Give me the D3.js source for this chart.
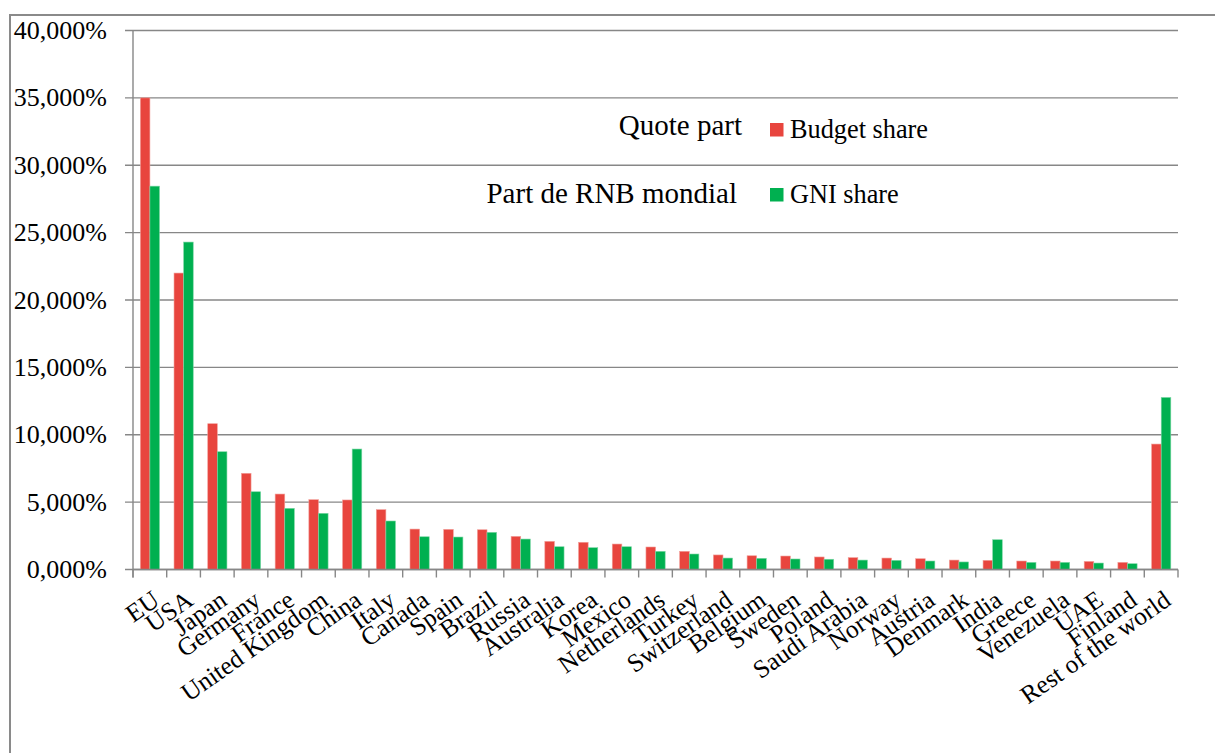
<!DOCTYPE html>
<html>
<head>
<meta charset="utf-8">
<script src="https://cdn.jsdelivr.net/npm/d3@7"></script>
<style>
  html, body { margin: 0; padding: 0; background: #fff; }
  svg { display: block; }
</style>
</head>
<body>
<svg id="chart" width="1215" height="753"></svg>
<script>
// Countries / groupings, in the order drawn along the x axis
const categories = [
  "EU", "USA", "Japan", "Germany", "France", "United Kingdom", "China", "Italy",
  "Canada", "Spain", "Brazil", "Russia", "Australia", "Korea", "Mexico",
  "Netherlands", "Turkey", "Switzerland", "Belgium", "Sweden", "Poland",
  "Saudi Arabia", "Norway", "Austria", "Denmark", "India", "Greece",
  "Venezuela", "UAE", "Finland", "Rest of the world"
];

// Share of the budget (%), "Quote part"
const budgetShare = [
  35.0, 22.0, 10.82, 7.14, 5.6, 5.18, 5.16, 4.44,
  3.0, 2.98, 2.95, 2.46, 2.09, 2.02, 1.89,
  1.67, 1.35, 1.08, 1.02, 1.0, 0.93,
  0.88, 0.85, 0.8, 0.7, 0.68, 0.63,
  0.63, 0.6, 0.53, 9.31
];

// Share of world GNI (%), "Part de RNB mondial"
const gniShare = [
  28.45, 24.3, 8.74, 5.77, 4.54, 4.17, 8.94, 3.6,
  2.43, 2.41, 2.76, 2.26, 1.69, 1.62, 1.69,
  1.35, 1.15, 0.85, 0.83, 0.78, 0.76,
  0.7, 0.68, 0.63, 0.56, 2.21, 0.53,
  0.53, 0.48, 0.43, 12.77
];

const seriesNames = ["Budget share", "GNI share"];
const seriesColors = ["#E8453E", "#00B050"];
const yTicks = [0, 5, 10, 15, 20, 25, 30, 35, 40];

const FONT = "'Liberation Serif', 'Times New Roman', Tinos, 'DejaVu Serif', serif";

const svg = d3.select("#chart")
  .attr("font-family", FONT);
const plot = { left: 133, right: 1178, top: 30.5, bottom: 569.5 };
const gridColor = "#878787";

// Outer frame (top and left edges visible)
svg.append("path")
  .attr("d", `M10,753 L10,15 L1215,15`)
  .attr("fill", "none")
  .attr("stroke", "#8a8a8a")
  .attr("stroke-width", 2);

const x = d3.scaleBand().domain(categories).range([plot.left, plot.right]).padding(0);
const xInner = d3.scaleBand().domain(seriesNames)
  .range([x.bandwidth() * 0.217, x.bandwidth() * 0.787]).padding(0);
const y = d3.scaleLinear().domain([0, 40]).range([plot.bottom, plot.top]);

// French-style number format: comma as decimal separator
const fmt = v => d3.format(".3f")(v).replace(".", ",") + "%";

// Horizontal gridlines with left tick marks
const yAxis = svg.append("g").attr("class", "y-axis");
yAxis.selectAll("line.grid")
  .data(yTicks)
  .join("line")
  .attr("class", "grid")
  .attr("x1", plot.left - 8)
  .attr("x2", plot.right)
  .attr("y1", d => y(d))
  .attr("y2", d => y(d))
  .attr("stroke", gridColor)
  .attr("stroke-width", 1.4);

yAxis.selectAll("text")
  .data(yTicks)
  .join("text")
  .attr("x", 107)
  .attr("y", d => y(d) + 8.5)
  .attr("text-anchor", "end")
  .attr("font-size", 26)
  .text(d => fmt(d));

// Vertical axis line
svg.append("line")
  .attr("x1", plot.left).attr("x2", plot.left)
  .attr("y1", y(40)).attr("y2", plot.bottom + 8)
  .attr("stroke", gridColor).attr("stroke-width", 1.4);

// Bars
const rows = categories.map((c, i) => ({ cat: c, vals: [budgetShare[i], gniShare[i]] }));
const groups = svg.append("g").attr("class", "bars")
  .selectAll("g")
  .data(rows)
  .join("g")
  .attr("transform", d => `translate(${x(d.cat)},0)`);

groups.selectAll("rect")
  .data(d => d.vals.map((v, k) => ({ name: seriesNames[k], v, k })))
  .join("rect")
  .attr("x", d => xInner(d.name))
  .attr("width", xInner.bandwidth())
  .attr("y", d => y(d.v))
  .attr("height", d => y(0) - y(d.v))
  .attr("fill", d => seriesColors[d.k])
  .attr("stroke", d => d.k === 0 ? "#f2a09b" : "#7fd7a7")
  .attr("stroke-width", 0.6);

// Category axis: baseline and tick marks between categories
const xAxis = svg.append("g").attr("class", "x-axis");
xAxis.append("line")
  .attr("x1", plot.left).attr("x2", plot.right)
  .attr("y1", plot.bottom).attr("y2", plot.bottom)
  .attr("stroke", gridColor).attr("stroke-width", 1.4);

const tickXs = categories.map(c => x(c)).concat([plot.right]);
xAxis.selectAll("line.tick")
  .data(tickXs)
  .join("line")
  .attr("class", "tick")
  .attr("x1", d => d).attr("x2", d => d)
  .attr("y1", plot.bottom).attr("y2", plot.bottom + 8)
  .attr("stroke", gridColor).attr("stroke-width", 1.4);

xAxis.selectAll("text")
  .data(categories)
  .join("text")
  .attr("transform", d => `translate(${x(d) + x.bandwidth() / 2 + 1},589) rotate(-35)`)
  .attr("text-anchor", "end")
  .attr("dy", "0.7em")
  .attr("font-size", 25.5)
  .text(d => d);

// Legend
const legend = svg.append("g").attr("class", "legend");
legend.append("text")
  .attr("x", 742).attr("y", 135)
  .attr("text-anchor", "end")
  .attr("font-size", 29)
  .text("Quote part");
legend.append("text")
  .attr("x", 737).attr("y", 203)
  .attr("text-anchor", "end")
  .attr("font-size", 29)
  .text("Part de RNB mondial");

const legendRows = [
  { name: seriesNames[0], color: seriesColors[0], y: 138 },
  { name: seriesNames[1], color: seriesColors[1], y: 203 }
];
const items = legend.selectAll("g.item")
  .data(legendRows)
  .join("g")
  .attr("class", "item");
items.append("rect")
  .attr("x", 770)
  .attr("y", d => d.y - 15)
  .attr("width", 13.5)
  .attr("height", 13.5)
  .attr("fill", d => d.color);
items.append("text")
  .attr("x", 790)
  .attr("y", d => d.y)
  .attr("font-size", 26.3)
  .text(d => d.name);
</script>
</body>
</html>
